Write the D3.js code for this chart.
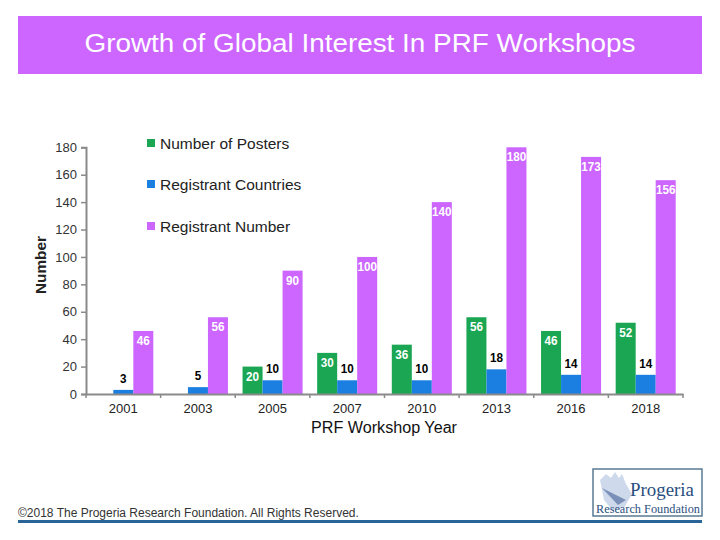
<!DOCTYPE html>
<html><head><meta charset="utf-8">
<script src="https://cdn.jsdelivr.net/npm/d3@7"></script>
<style>body{margin:0;background:#fff}svg{display:block}</style>
</head><body>
<script>
const years = ["2001","2003","2005","2007","2010","2013","2016","2018"];
const seriesNames = ["Number of Posters","Registrant Countries","Registrant Number"];
const posters = [null, null, 20, 30, 36, 56, 46, 52];
const countries = [3, 5, 10, 10, 10, 18, 14, 14];
const registrants = [46, 56, 90, 100, 140, 180, 173, 156];
const yTicks = [0,20,40,60,80,100,120,140,160,180];
const colors = ["#1aa653","#1a7fe0","#cc66ff"];
const seriesValues = [posters, countries, registrants];

const W=720,H=540;
const svg=d3.select("body").append("svg").attr("width",W).attr("height",H);
const font="Liberation Sans, Arial, sans-serif";

// title banner
svg.append("rect").attr("x",18).attr("y",16).attr("width",684).attr("height",58).attr("fill","#cc66ff");
svg.append("text").attr("x",360).attr("y",52).attr("text-anchor","middle")
  .attr("font-family",font).attr("font-size",26.5).attr("fill","#fff")
  .attr("textLength",551).attr("lengthAdjust","spacingAndGlyphs")
  .text("Growth of Global Interest In PRF Workshops");

const x=d3.scaleBand().domain(years).range([86,683]).padding(0);
const x1=d3.scaleBand().domain(seriesNames).range([0,x.bandwidth()]).paddingInner(0).paddingOuter(0.365);
const y=d3.scaleLinear().domain([0,180]).range([394,147.3]);

const g=svg.append("g");
seriesNames.forEach((s,si)=>{
  const data=years.map((yr,i)=>({yr,v:seriesValues[si][i]})).filter(d=>d.v!=null);
  g.selectAll(null).data(data).join("rect")
    .attr("x",d=>x(d.yr)+x1(s)).attr("width",x1.bandwidth())
    .attr("y",d=>y(d.v)).attr("height",d=>y(0)-y(d.v)).attr("fill",colors[si]);
  g.selectAll(null).data(data).join("text")
    .attr("x",d=>x(d.yr)+x1(s)+x1.bandwidth()/2)
    .attr("y",d=> si===1 ? y(d.v)-7 : y(d.v)+14)
    .attr("text-anchor","middle").attr("font-family",font).attr("font-weight","bold")
    .attr("font-size",13).attr("fill",si===1?"#000":"#fff")
    .attr("textLength",d=>String(d.v).length*6.5).attr("lengthAdjust","spacingAndGlyphs")
    .text(d=>d.v);
});

// y axis
const yAx=svg.append("g").attr("transform","translate(86,0)")
  .call(d3.axisLeft(y).tickValues(yTicks).tickSize(5).tickPadding(4));
yAx.select(".domain").attr("stroke","#8a8a8a").attr("stroke-width",2);
yAx.selectAll(".tick line").attr("stroke","#8a8a8a").attr("stroke-width",1.5);
yAx.selectAll("text").attr("font-family",font).attr("font-size",13).attr("fill","#333");

// x axis
const xAx=svg.append("g").attr("transform","translate(0,394)")
  .call(d3.axisBottom(x).tickSize(0).tickPadding(10));
xAx.select(".domain").attr("stroke","#8a8a8a").attr("stroke-width",2);
xAx.selectAll("text").attr("font-family",font).attr("font-size",13).attr("fill","#222");
svg.append("g").selectAll("line").data(years.concat(["end"])).join("line")
  .attr("x1",(d,i)=>i<years.length?x(d):683).attr("x2",(d,i)=>i<years.length?x(d):683)
  .attr("y1",394).attr("y2",398).attr("stroke","#8a8a8a").attr("stroke-width",1.5);

// axis titles
svg.append("text").attr("transform","translate(46,265) rotate(-90)").attr("text-anchor","middle")
  .attr("font-family",font).attr("font-weight","bold").attr("font-size",15).attr("fill","#222")
  .attr("textLength",58).attr("lengthAdjust","spacingAndGlyphs").text("Number");
svg.append("text").attr("x",384).attr("y",433).attr("text-anchor","middle")
  .attr("font-family",font).attr("font-size",16).attr("fill","#111")
  .attr("textLength",146).attr("lengthAdjust","spacingAndGlyphs")
  .text("PRF Workshop Year");

// legend
const leg=svg.append("g");
seriesNames.forEach((s,i)=>{
  const ly=[144,185,227][i];
  leg.append("rect").attr("x",147).attr("y",ly-5).attr("width",8).attr("height",8).attr("fill",colors[i]);
  leg.append("text").attr("x",160).attr("y",ly+5).attr("font-family",font).attr("font-size",15.5).attr("fill","#222").text(s);
});

// footer
svg.append("text").attr("x",18).attr("y",517).attr("font-family",font).attr("font-size",12).attr("fill","#333")
  .text("\u00a92018 The Progeria Research Foundation. All Rights Reserved.");
svg.append("rect").attr("x",18).attr("y",520).attr("width",684).attr("height",3).attr("fill","#2a659a");

// logo
const lg=svg.append("g");
lg.append("rect").attr("x",593).attr("y",469).attr("width",109).attr("height",47).attr("fill","#fff").attr("stroke","#5a7a94").attr("stroke-width",1.5);
lg.append("path").attr("d","M600,480 L606,474 L611,478 L615,472 L619,478 L622,474 L626,484 L632,494 L624,508 L612,510 L604,500 Z")
  .attr("fill","#c9d6ea").attr("opacity",0.9);
lg.append("path").attr("d","M602,488 L626,500 L618,505 Z").attr("fill","#7a90b8");
lg.append("text").attr("x",662).attr("y",496).attr("text-anchor","middle").attr("font-family","Liberation Serif, serif").attr("font-size",18).attr("fill","#2a4f80")
  .attr("textLength",64).attr("lengthAdjust","spacingAndGlyphs").text("Progeria");
lg.append("text").attr("x",648).attr("y",513).attr("text-anchor","middle").attr("font-family","Liberation Serif, serif").attr("font-size",12.5).attr("fill","#2a4f80")
  .attr("textLength",104).attr("lengthAdjust","spacingAndGlyphs").text("Research Foundation");
</script>
</body></html>
